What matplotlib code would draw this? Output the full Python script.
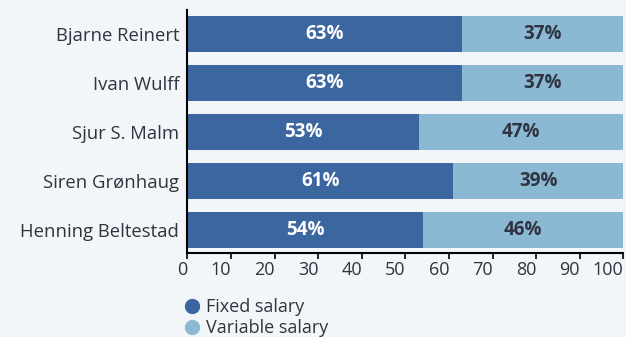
import matplotlib.pyplot as plt
import numpy as np

names = ["Bjarne Reinert", "Ivan Wulff", "Sjur S. Malm", "Siren Grønhaug", "Henning Beltestad"]
fixed = [63, 63, 53, 61, 54]
variable = [37, 37, 47, 39, 46]
series_labels = ["Fixed salary", "Variable salary"]

BG = "#f2f6f9"
DARK = "#3c66a0"
LIGHT = "#8bb9d4"
TEXT = "#2f3440"

plt.rcParams['font.family'] = ['Open Sans', 'DejaVu Sans']

fig = plt.figure(figsize=(6.26, 3.37), dpi=100, facecolor=BG)
ax = fig.add_axes([0.2995, 0.249, 0.6965, 0.721])
ax.set_facecolor(BG)

y = np.arange(len(names))
h = 0.735
ax.barh(y, fixed, height=h, color=DARK)
ax.barh(y, variable, left=fixed, height=h, color=LIGHT)

for i in range(len(names)):
    ax.text(fixed[i] / 2, y[i], f"{fixed[i]}%", ha="center", va="center",
            color="white", fontsize=13.5, fontweight="bold")
    ax.text(fixed[i] + variable[i] / 2, y[i], f"{variable[i]}%", ha="center", va="center",
            color=TEXT, fontsize=13.5, fontweight="bold")

ax.set_xlim(0, 100)
ax.set_ylim(len(names) - 0.53, -0.49)
ax.set_yticks(y)
ax.set_yticklabels(names, fontsize=13.3, color=TEXT)
ax.set_xticks(np.arange(0, 101, 10))
ax.tick_params(axis="x", labelsize=13, labelcolor=TEXT, length=4, width=1.2, pad=2)
for lbl in ax.get_xticklabels():
    lbl.set_horizontalalignment("right")
ax.tick_params(axis="y", length=0, pad=6)
for s in ["top", "right"]:
    ax.spines[s].set_visible(False)
ax.spines["left"].set_linewidth(1.5)
ax.spines["bottom"].set_linewidth(1.5)

fig.legend([plt.Line2D([], [], marker="o", ls="", color=DARK, markersize=10),
            plt.Line2D([], [], marker="o", ls="", color=LIGHT, markersize=10)],
           series_labels, loc="upper left", bbox_to_anchor=(0.292, 0.115),
           frameon=False, fontsize=13, labelspacing=0.15,
           handletextpad=0.3, handlelength=1.0, borderaxespad=0, borderpad=0,
           labelcolor=TEXT)

fig.savefig("out.png", dpi=100, facecolor=BG)
